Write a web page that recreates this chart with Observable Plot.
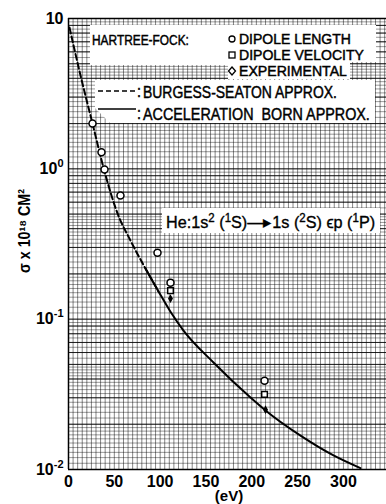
<!DOCTYPE html>
<html><head><meta charset="utf-8">
<script src="https://cdn.jsdelivr.net/npm/d3@7"></script>
<script src="https://cdn.jsdelivr.net/npm/@observablehq/plot@0.6"></script>
<style>body{margin:0;background:#fff;overflow:hidden}</style>
</head><body><div id="chart"></div>
<script>
// ---- data ----
const xTicks = [0, 50, 100, 150, 200, 250, 300];
const yTicks = [0.01, 0.1, 1, 10];
const yTickBase = ["10", "10", "10", "10"];
const yTickExp = ["-2", "-1", "0", ""];

// Burgess-Seaton approx. (dashed)
const dashedE = [1.1, 13.1, 26.2, 39.3, 53.5, 67.7, 84.0, 98.2];
const dashedS = [8.7, 4.18, 2.0, 0.96, 0.505, 0.333, 0.217, 0.153];
// Acceleration Born approx. (solid)
const solidE = [84.0, 98.2, 111.3, 125.5, 158.2, 198.6, 215, 253.2, 289.2, 318.6];
const solidS = [0.217, 0.153, 0.112, 0.084, 0.0515, 0.0301, 0.0247, 0.0168, 0.0124, 0.0102];

// Hartree-Fock dipole length (circles)
const lengthE = [26.2, 36, 39.3, 56.7, 97.1, 111.3, 213.9];
const lengthS = [2.0, 1.29, 0.99, 0.665, 0.277, 0.175, 0.039];
// Hartree-Fock dipole velocity (squares)
const velocityE = [111.3, 213.9];
const velocityS = [0.155, 0.0316];
// Experimental (diamonds)
const expE = [111.3, 215];
const expS = [0.137, 0.025];

const legendTop = ["HARTREE-FOCK:", "DIPOLE LENGTH", "DIPOLE VELOCITY", "EXPERIMENTAL"];
const legendCurves = ["BURGESS-SEATON APPROX.", "ACCELERATION  BORN APPROX."];
const xLabel = "(eV)";
const yLabel = "\u03C3 x 10\u00B9\u2078 CM\u00B2";

// ---- build ----
const zip = (a, b) => a.map((v, i) => ({x: v, y: b[i]}));
const xMinor = d3.range(0, 350, 5);
const yMinor = [];
for (const d of [0.01, 0.1, 1]) {
  for (let v = 1; v < 2; v += 0.1) yMinor.push(d * v);
  for (let v = 2; v < 5; v += 0.2) yMinor.push(d * v);
  for (let v = 5; v < 10; v += 0.5) yMinor.push(d * v);
}
const yMajor = [];
for (const d of [0.01, 0.1, 1]) for (let k = 1; k < 10; k++) yMajor.push(d * k);

const FONT = "'Liberation Sans',Arial,sans-serif";

const chart = Plot.plot({
  width: 386, height: 504,
  marginLeft: 68, marginRight: 0, marginTop: 18, marginBottom: 35,
  x: {domain: [0, 347]},
  y: {type: "log", domain: [0.01, 10]},
  style: {fontFamily: FONT, background: "#fff"},
  marks: [
    Plot.ruleX(xMinor, {stroke: "#000", strokeOpacity: 0.6, strokeWidth: 0.8}),
    Plot.ruleY(yMinor, {stroke: "#000", strokeOpacity: 0.5, strokeWidth: 0.8}),
    Plot.ruleY(yMajor, {stroke: "#000", strokeOpacity: 0.8, strokeWidth: 1}),
    Plot.ruleX([0], {stroke: "#000", strokeWidth: 1.5}),
    Plot.ruleY([0.01, 10], {stroke: "#000", strokeWidth: 1.5}),
    Plot.axisX(xTicks, {tickSize: 0, tickPadding: 6, fontSize: 16, fontWeight: "bold", label: null, fontFamily: FONT}),
    Plot.axisY(yTicks, {tickSize: 0, tickPadding: 5, fontSize: 16, fontWeight: "bold", label: null, fontFamily: FONT,
      tickFormat: d => yTickBase[yTicks.indexOf(d)] + "|" + yTickExp[yTicks.indexOf(d)]}),
    Plot.line(zip(dashedE, dashedS), {x: "x", y: "y", stroke: "#000", strokeWidth: 2, strokeDasharray: "6,3", curve: "monotone-x"}),
    Plot.line(zip(solidE, solidS), {x: "x", y: "y", stroke: "#000", strokeWidth: 2, curve: "monotone-x"}),
    Plot.dot(zip(lengthE, lengthS), {x: "x", y: "y", symbol: "circle", r: 3.5, stroke: "#000", strokeWidth: 1.5, fill: "#fff"}),
    Plot.dot(zip(velocityE, velocityS), {x: "x", y: "y", symbol: "square", r: 3.2, stroke: "#000", strokeWidth: 1.5, fill: "#fff"}),
    Plot.dot(zip(expE, expS), {x: "x", y: "y", symbol: "diamond", r: 1.7, stroke: "#000", fill: "#000"})
  ]
});
document.getElementById("chart").appendChild(chart);

const svg = d3.select(chart);
// y tick labels with real superscripts
svg.selectAll('g[aria-label="y-axis tick label"] text').each(function () {
  const [b, e] = this.textContent.split("|");
  const t = d3.select(this);
  t.text(null);
  t.append("tspan").text(b);
  if (e) t.append("tspan").attr("dy", -7).attr("font-size", 11).text(e);
});

// ---- annotations (legend boxes, axis titles) ----
const lineG = svg.select('g[aria-label="line"]').node();
const g = d3.select(chart.insertBefore(document.createElementNS("http://www.w3.org/2000/svg", "g"), lineG))
  .attr("text-anchor", "start");
g.append("polygon").attr("points", "90,25 376,25 376,62 350,62 350,79 228,79 228,65 90,65").attr("fill", "#fff");
g.append("polygon").attr("points", "95,80 375,80 375,123 110,123 95,108").attr("fill", "#fff");
g.append("rect").attr("x", 162).attr("y", 208).attr("width", 218).attr("height", 25).attr("fill", "#fff");

// text horizontally condensed to a target width (like the narrow lettering of the original)
function fit(sel, x, y, len, rotate) {
  const w = sel.node().getComputedTextLength();
  const s = len / w;
  sel.attr("transform", rotate ? `translate(${x},${y}) rotate(-90) scale(${s},1)` : `translate(${x},${y}) scale(${s},1)`);
  return sel;
}
const txt = (s, x, y, len, size = 15) => {
  const t = g.append("text").attr("font-family", FONT).attr("font-size", size)
   .attr("text-anchor", "start").attr("stroke", "#000").attr("stroke-width", 0.45).text(s);
  return fit(t, x, y, len);
};

txt(legendTop[0], 92, 45, 97, 14);
txt(legendTop[1], 239, 44, 112, 14);
txt(legendTop[2], 239, 60, 125, 14);
txt(legendTop[3], 239, 76, 108, 14);
g.append("circle").attr("cx", 232).attr("cy", 39).attr("r", 3).attr("fill", "none").attr("stroke", "#000").attr("stroke-width", 1.3);
g.append("rect").attr("x", 229).attr("y", 52).attr("width", 6).attr("height", 6).attr("fill", "none").attr("stroke", "#000").attr("stroke-width", 1.3);
g.append("path").attr("d", "M232,67 L235.5,71 L232,75 L228.5,71 Z").attr("fill", "none").attr("stroke", "#000").attr("stroke-width", 1.3);

g.append("line").attr("x1", 98).attr("x2", 136).attr("y1", 91).attr("y2", 91).attr("stroke", "#000").attr("stroke-width", 1.6).attr("stroke-dasharray", "5,3");
g.append("line").attr("x1", 98).attr("x2", 136).attr("y1", 109).attr("y2", 109).attr("stroke", "#000").attr("stroke-width", 1.6);
txt(":", 137, 97, 4, 16);
txt(":", 137, 119, 4, 16);
txt(legendCurves[0], 143, 98, 194, 16);
txt(legendCurves[1], 143, 120, 227, 16);

// reaction label with superscripts
const rt = g.append("text").attr("font-family", FONT).attr("font-size", 17)
  .attr("text-anchor", "start").attr("stroke", "#000").attr("stroke-width", 0.35);
const parts = [["He:1s", 0], ["2", 1], [" (", 0], ["1", 1], ["S)\u2014\u25B81s (", 0], ["2", 1], ["S) \u03F5p (", 0], ["1", 1], ["P)", 0]];
let sup = false;
for (const [s, isSup] of parts) {
  const t = rt.append("tspan").text(s);
  if (isSup && !sup) { t.attr("dy", -6).attr("font-size", 12); sup = true; }
  else if (isSup) { t.attr("font-size", 12); }
  else if (sup) { t.attr("dy", 6); sup = false; }
}
fit(rt, 166, 228, 209);

// axis titles
const yl = g.append("text").attr("text-anchor", "middle")
  .attr("font-family", FONT).attr("font-size", 16).attr("font-weight", "bold").text(yLabel);
fit(yl, 30, 231, 84, true);
svg.append("text").attr("x", 229).attr("y", 501).attr("text-anchor", "middle")
  .attr("font-family", FONT).attr("font-size", 15).attr("font-weight", "bold").text(xLabel);
</script>
</body></html>
